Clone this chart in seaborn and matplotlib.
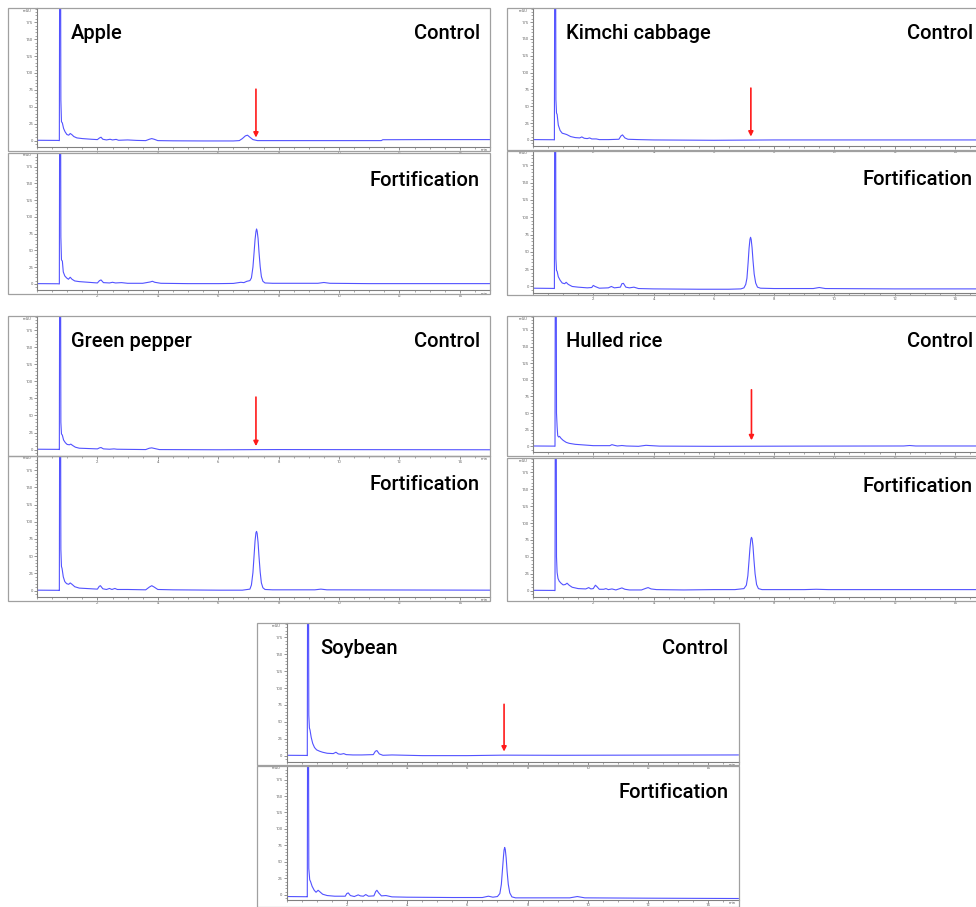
import seaborn as sns
import numpy as np
import pandas as pd
import matplotlib.pyplot as plt
from matplotlib.patches import Rectangle
from matplotlib.ticker import MultipleLocator

# chromatogram traces: (retention time [min], signal [mAU])
apple_ctrl = [(0.00, 0.5), (0.70, 0.3), (0.74, 0), (0.755, 400), (0.775, 400), (0.79, 60), (0.81, 28),
              (0.84, 26), (0.88, 18), (0.93, 13), (0.99, 9), (1.05, 8), (1.10, 10.5), (1.15, 9), (1.22, 6),
              (1.32, 4), (1.5, 3), (1.8, 2), (2.0, 1.5), (2.07, 4), (2.12, 5), (2.18, 2), (2.3, 1), (2.42, 2),
              (2.5, 1), (2.62, 1.8), (2.7, 0.5), (3.0, 1), (3.3, 0.3), (3.6, 0), (3.72, 2), (3.8, 3), (3.88, 2),
              (4.0, 0), (4.5, -0.3), (5.5, -0.5), (6.5, -0.5), (6.7, 0), (6.8, 3), (6.9, 7), (6.97, 8),
              (7.05, 5), (7.15, 1.5), (7.3, 0), (9.0, 0), (11.4, 0), (11.45, 1.3), (13.0, 1.5), (15.0, 1.5)]
apple_fort = [(0.0, 0.5), (0.70, 0.3), (0.74, 0), (0.755, 400), (0.775, 400), (0.79, 70), (0.81, 36),
              (0.84, 34), (0.87, 18), (0.92, 12), (0.98, 9), (1.04, 7), (1.10, 10), (1.16, 7), (1.25, 4.5),
              (1.4, 3.5), (1.7, 2.5), (2.0, 1.5), (2.07, 5), (2.12, 6), (2.2, 2), (2.4, 1.5), (2.5, 2.5),
              (2.6, 1.5), (2.8, 2), (3.0, 1), (3.5, 1), (3.75, 3), (3.82, 4), (3.9, 2.5), (4.1, 1), (5.0, 0.5),
              (6.0, 0.5), (6.5, 0.8), (6.75, 2.5), (6.85, 2), (6.95, 4), (7.05, 5), (7.1, 9), (7.15, 25),
              (7.19, 48), (7.22, 66), (7.25, 78), (7.27, 82), (7.29, 79), (7.32, 68), (7.35, 48), (7.39, 26),
              (7.43, 11), (7.48, 4), (7.55, 1.5), (7.8, 1), (9.3, 1), (9.5, 2.2), (9.7, 1), (11, 0.5), (15, 0.5)]
kimchi_ctrl = [(0.0, 0.5), (0.68, 0.3), (0.71, 0), (0.725, 400), (0.745, 400), (0.76, 60), (0.78, 40),
               (0.80, 38), (0.84, 22), (0.9, 14), (0.97, 10), (1.05, 9), (1.12, 8), (1.25, 5), (1.4, 3.5),
               (1.55, 3), (1.62, 4.5), (1.7, 2.5), (1.8, 2), (1.88, 3), (1.95, 1.5), (2.1, 1.5), (2.2, 0.5),
               (2.5, 0.5), (2.85, 1), (2.92, 6), (2.97, 7.5), (3.05, 3), (3.15, 1), (3.5, 0.5), (4.0, 0),
               (6.0, -0.5), (8.0, 0), (15, 0)]
kimchi_fort = [(0.0, -2.5), (0.68, -2.8), (0.71, -3), (0.725, 400), (0.745, 400), (0.76, 40), (0.78, 23),
               (0.80, 22), (0.84, 14), (0.9, 9), (0.97, 5), (1.05, 4), (1.1, 6), (1.17, 3), (1.3, 0),
               (1.5, -1), (1.8, -2), (1.95, -1.5), (2.0, 1.5), (2.06, 0), (2.2, -2.5), (2.5, -2), (2.6, 0),
               (2.7, -2), (2.9, -1), (2.95, 4), (3.0, 4.5), (3.08, -1), (3.2, -2), (3.35, -1), (3.5, -3),
               (4.0, -3.5), (5.5, -4), (6.5, -4), (6.9, -3.5), (7.0, -2), (7.06, 3), (7.1, 12), (7.14, 35),
               (7.17, 55), (7.2, 68), (7.22, 71), (7.24, 68), (7.27, 56), (7.3, 38), (7.34, 18), (7.39, 5),
               (7.45, -1), (7.55, -2.5), (8.0, -3), (9.3, -3), (9.5, -1.5), (9.7, -3), (12, -3.5), (15, -3.5)]
pepper_ctrl = [(0.0, 0.5), (0.72, 0.3), (0.74, 0), (0.755, 400), (0.775, 400), (0.79, 40), (0.81, 23),
               (0.84, 21), (0.88, 14), (0.94, 10), (1.0, 7.5), (1.07, 7), (1.12, 8), (1.18, 6), (1.27, 3.5),
               (1.4, 2), (1.7, 1.5), (2.0, 1), (2.07, 2.5), (2.12, 3), (2.2, 1), (2.4, 0.5), (2.55, 1),
               (2.65, 0.5), (3.0, 0.3), (3.6, 0), (3.72, 2), (3.8, 2.5), (3.9, 1.5), (4.05, 0), (6.0, -0.3),
               (8.0, 0), (15.0, -0.3)]
pepper_fort = [(0.0, 0.5), (0.72, 0.3), (0.74, 0), (0.755, 400), (0.775, 400), (0.79, 60), (0.81, 35),
               (0.83, 32), (0.87, 20), (0.92, 13), (0.98, 10), (1.05, 9), (1.1, 11), (1.16, 9), (1.25, 5.5),
               (1.4, 3.5), (1.6, 3), (2.0, 2), (2.06, 6), (2.1, 7), (2.18, 2.5), (2.3, 1.5), (2.4, 3),
               (2.48, 1.5), (2.58, 3), (2.66, 1.5), (3.0, 1.5), (3.6, 1), (3.72, 5), (3.8, 7), (3.88, 5),
               (4.0, 1.5), (4.5, 1), (6.0, 0.5), (6.8, 0.5), (7.05, 2), (7.1, 8), (7.15, 26), (7.19, 52),
               (7.22, 72), (7.25, 84), (7.27, 86), (7.29, 83), (7.32, 70), (7.35, 50), (7.39, 27), (7.43, 11),
               (7.48, 4), (7.55, 1.5), (7.8, 1), (9.2, 1), (9.4, 2), (9.6, 1), (15, 0.5)]
rice_ctrl = [(0.0, 0.5), (0.7, 0.3), (0.73, 0), (0.745, 400), (0.765, 400), (0.78, 50), (0.80, 30),
             (0.82, 16), (0.85, 14), (0.88, 15), (0.93, 12), (1.0, 9), (1.1, 6), (1.2, 4.5), (1.4, 3),
             (1.7, 2), (2.0, 1), (2.3, 1), (2.55, 1), (2.62, 2.5), (2.7, 1.5), (2.8, 0.5), (2.95, 1.2),
             (3.1, 0.5), (3.5, 0), (3.75, 1.5), (3.85, 1.2), (4.2, 0.3), (6.0, 0), (9.0, 0.3), (12.3, 0.5),
             (12.5, 1.2), (12.7, 0.5), (15.0, 0.5)]
rice_fort = [(0.0, 0.5), (0.7, 0.3), (0.73, 0), (0.745, 400), (0.765, 400), (0.78, 50), (0.80, 27),
             (0.83, 18), (0.87, 14), (0.93, 11), (1.0, 8.5), (1.07, 9), (1.13, 11), (1.2, 8), (1.3, 5),
             (1.5, 3), (1.75, 2.5), (1.85, 4.5), (1.92, 2.5), (2.0, 3), (2.07, 8), (2.12, 6), (2.2, 2),
             (2.35, 2), (2.42, 3), (2.5, 1.5), (2.62, 2.5), (2.75, 1), (2.95, 4), (3.05, 2), (3.2, 1),
             (3.6, 1), (3.75, 3.5), (3.82, 4.5), (3.92, 2.5), (4.1, 1.5), (5.0, 1), (6.0, 1.5), (6.7, 1.5),
             (7.0, 3), (7.08, 8), (7.13, 22), (7.17, 45), (7.2, 63), (7.23, 76), (7.25, 79), (7.27, 77),
             (7.3, 66), (7.33, 47), (7.37, 25), (7.42, 9), (7.48, 3), (7.6, 1.5), (9.0, 1.5), (9.4, 2),
             (9.8, 1.5), (12, 1.5), (15, 1.5)]
soy_ctrl = [(0.0, 0.5), (0.67, 0.3), (0.69, 0), (0.705, 400), (0.725, 400), (0.74, 60), (0.76, 41),
            (0.78, 38), (0.82, 27), (0.87, 18), (0.93, 12), (1.0, 8.5), (1.1, 6.5), (1.2, 5), (1.35, 3.5),
            (1.55, 3), (1.64, 5), (1.72, 2.5), (1.8, 2), (1.9, 3), (1.98, 1.5), (2.2, 1), (2.5, 1),
            (2.88, 1.5), (2.95, 6.5), (3.0, 7.5), (3.08, 2.5), (3.2, 0.5), (3.5, 1), (4.5, 0), (6.0, 0),
            (7.2, 0.7), (9.0, 0.5), (15, 1)]
soy_fort = [(0.0, -2.5), (0.67, -2.8), (0.69, -3), (0.705, 400), (0.725, 400), (0.74, 40), (0.77, 23),
            (0.80, 20), (0.85, 13), (0.92, 7), (0.98, 4), (1.05, 7), (1.1, 5), (1.2, 1), (1.35, -1),
            (1.6, -2), (1.95, -2), (2.0, 2), (2.05, 3), (2.12, -1), (2.25, -2.5), (2.38, 0), (2.45, -1.5),
            (2.55, -2), (2.63, 0.5), (2.72, -2), (2.9, -1.5), (2.96, 5), (3.0, 7), (3.06, 3), (3.15, -1.5),
            (3.3, -1), (3.5, -3), (4.0, -3.5), (5.5, -4), (6.5, -4), (6.7, -2), (6.85, -3.5), (7.0, -2.5),
            (7.08, 2), (7.13, 16), (7.17, 40), (7.2, 58), (7.22, 68), (7.24, 72), (7.26, 69), (7.29, 56),
            (7.32, 36), (7.36, 16), (7.41, 3), (7.48, -3), (7.6, -4.5), (9.4, -4.5), (9.65, -2.5),
            (9.9, -4.5), (12, -5), (15, -5.5)]

samples = ['Apple', 'Kimchi cabbage', 'Green pepper', 'Hulled rice', 'Soybean']
control_traces = [apple_ctrl, kimchi_ctrl, pepper_ctrl, rice_ctrl, soy_ctrl]
fort_traces = [apple_fort, kimchi_fort, pepper_fort, rice_fort, soy_fort]
# red arrow in the control run: retention time, arrow top, arrow tip (mAU)
arrow_rt = [7.25, 7.23, 7.25, 7.25, 7.22]
arrow_top = [76, 77, 77, 85, 76]
arrow_tip = [4.5, 5, 5, 9, 6]

y_ticks = [0, 25, 50, 75, 100, 125, 150, 175]
x_ticks = [2, 4, 6, 8, 10, 12, 14]

# pixel layout of each pair of panels: outer frame x0/x1, axis left,
# control (frame top, axis bottom, frame bottom), fortification (top, axis bottom, frame bottom)
layout = [
    (8, 490, 37, (8, 146.7, 151), (152.5, 290, 293.5)),
    (507, 990, 533, (8, 146, 150), (150.7, 292.7, 295)),
    (8, 490, 37, (316, 455.7, 455.7), (455.7, 596.7, 601)),
    (507, 990, 533, (316, 452.3, 455.5), (458.3, 596.7, 601)),
    (257, 738.5, 286.5, (623.3, 761.7, 765), (765.7, 899.5, 906.5)),
]
y_bottom = [(-9, -9), (-9, -9), (-9, -9), (-9, -9), (-9, -7)]

W, H = 976, 907
sns.set_style('white')
plt.rcParams['font.family'] = ['Roboto', 'DejaVu Sans']

fig = plt.figure(figsize=(W / 100, H / 100), dpi=100)
line_col = '#5252ff'
frame_col = '#a0a0a0'


def frame(x0, x1, y0, y1):
    fig.add_artist(Rectangle((x0 / W, 1 - y1 / H), (x1 - x0) / W, (y1 - y0) / H,
                             transform=fig.transFigure, fill=False, ec=frame_col, lw=0.9))


def panel(x_left, x_right, top, bottom, trace, ymin):
    ax = fig.add_axes([x_left / W, 1 - bottom / H, (x_right - x_left) / W, (bottom - top) / H])
    df = pd.DataFrame(trace, columns=['time', 'mAU'])
    sns.lineplot(data=df, x='time', y='mAU', ax=ax, color=line_col, linewidth=0.8,
                 estimator=None, sort=False)
    ax.set_xlim(0, 15)
    ax.set_ylim(ymin, 196)
    ax.set_xlabel('')
    ax.set_ylabel('')
    ax.set_facecolor('none')
    ax.set_xticks(x_ticks)
    ax.set_xticklabels([str(t) for t in x_ticks])
    ax.set_yticks(y_ticks)
    ax.set_yticklabels([str(t) for t in y_ticks])
    ax.xaxis.set_minor_locator(MultipleLocator(0.5))
    ax.yaxis.set_minor_locator(MultipleLocator(5))
    ax.tick_params(which='both', direction='out', labelsize=3, colors='#666666', pad=0.8,
                   bottom=True, left=True)
    ax.tick_params(which='major', length=2, width=0.5)
    ax.tick_params(which='minor', length=1.2, width=0.4)
    for s in ['top', 'right']:
        ax.spines[s].set_visible(False)
    for s in ['left', 'bottom']:
        ax.spines[s].set_color('#808080')
        ax.spines[s].set_linewidth(0.8)
    ax.text(-0.012, 0.995, 'mAU', transform=ax.transAxes, ha='right', va='top',
            fontsize=3, color='#666666')
    # the right-hand column is cut off by the figure edge, so its 'min' is not shown
    if x_right <= W:
        ax.text(0.995, -0.012, 'min', transform=ax.transAxes, ha='right', va='top',
                fontsize=3, color='#666666')
    return ax


label_kw = dict(fontsize=14.5, fontweight='medium', color='black', va='baseline')

for i, name in enumerate(samples):
    x0, x1, xa, ctrl, fort = layout[i]
    frame(x0, x1, ctrl[0], ctrl[2])
    frame(x0, x1, fort[0], fort[2])
    xr = min(x1, 985)
    # keep the right-hand labels just inside the figure edge
    right_frac = min(0.978, (W - 3 - xa) / (xr - xa))

    ax_c = panel(xa, xr, ctrl[0], ctrl[1], control_traces[i], y_bottom[i][0])
    ax_c.text(0.074, 0.775, name, transform=ax_c.transAxes, ha='left', **label_kw)
    ax_c.text(right_frac, 0.775, 'Control', transform=ax_c.transAxes, ha='right', **label_kw)
    ax_c.annotate('', xy=(arrow_rt[i], arrow_tip[i]), xytext=(arrow_rt[i], arrow_top[i]),
                  arrowprops=dict(arrowstyle='-|>', color='#ff1a1a', lw=1.2,
                                  mutation_scale=7, shrinkA=0, shrinkB=0))

    ax_f = panel(xa, xr, fort[0], fort[1], fort_traces[i], y_bottom[i][1])
    ax_f.text(right_frac, 0.76, 'Fortification', transform=ax_f.transAxes, ha='right', **label_kw)

fig.savefig('out.png', dpi=100, facecolor='white')
